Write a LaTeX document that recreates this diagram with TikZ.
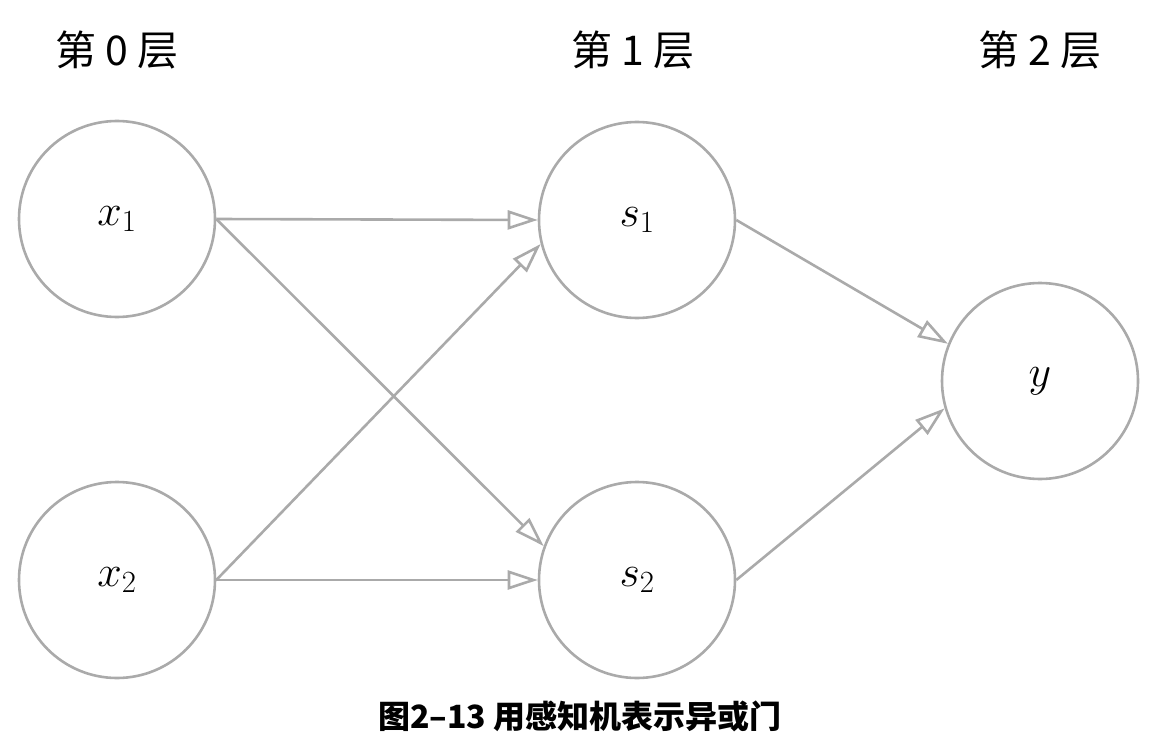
\RequirePackage{fix-cm}
\documentclass[tikz,border=0pt]{standalone}
\usepackage{fontspec}
\newfontfamily\cjk{Noto Sans CJK SC}
\usetikzlibrary{arrows.meta}
\definecolor{edgegray}{RGB}{170,170,170}
\tikzset{
  neuron/.style={circle, draw=edgegray, line width=2.6pt, minimum size=196pt, inner sep=0pt, font=\fontsize{44}{48}\selectfont},
  conn/.style={draw=edgegray, line width=2.6pt, -{Triangle[open, length=30pt, width=19pt]}},
  layerlab/.style={font=\cjk\fontsize{41}{45}\selectfont},
  caplab/.style={font=\cjk\bfseries\fontsize{32}{36}\selectfont}
}
\begin{document}
\begin{tikzpicture}[x=1pt, y=-1pt]
\useasboundingbox (0,0) rectangle (1150,754);
\node[layerlab] (L0) at (117,50) {第\hspace{9pt}0\hspace{9pt}层};
\node[layerlab] (L1) at (633,50) {第\hspace{9pt}1\hspace{9pt}层};
\node[layerlab] (L2) at (1040,50) {第\hspace{9pt}2\hspace{9pt}层};
\node[neuron] (x1) at (117,219) {$x_1$};
\node[neuron] (x2) at (117,580) {$x_2$};
\node[neuron] (s1) at (637,220) {$s_1$};
\node[neuron] (s2) at (637,580) {$s_2$};
\node[neuron] (y) at (1040,381) {$y$};
\draw[conn] (x1.east) -- (s1.west);
\draw[conn] (x1.east) -- (s2.160);
\draw[conn] (x2.east) -- (s1.194.5);
\draw[conn] (x2.east) -- (s2.west);
\draw[conn] (s1.east) -- (y.158.6);
\draw[conn] (s2.east) -- (y.196);
\node[caplab] (cap) at (580,716) {图2–13 用感知机表示异或门};
\end{tikzpicture}
\end{document}
